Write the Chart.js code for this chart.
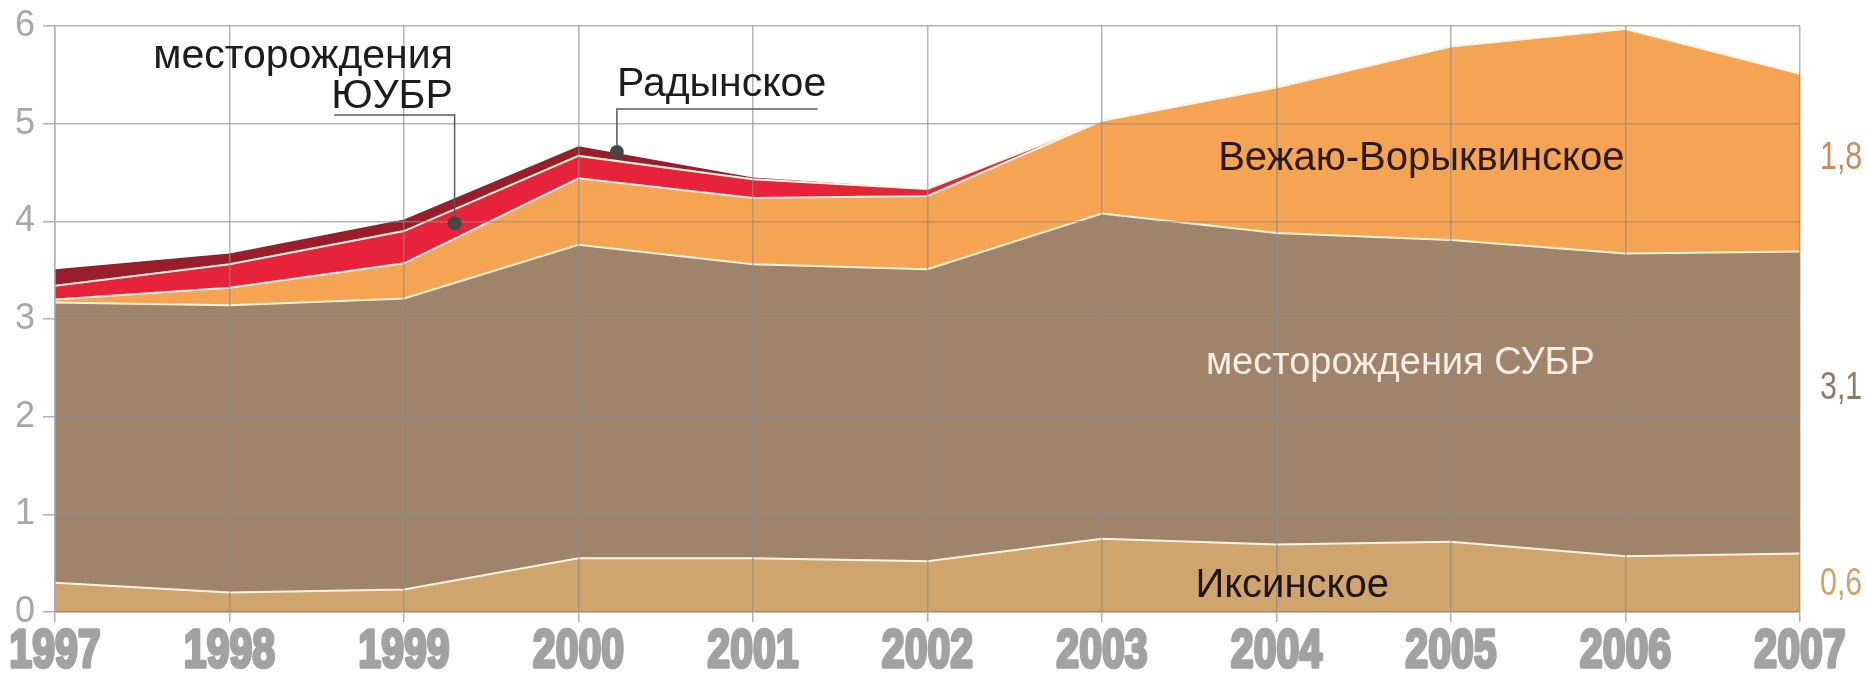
<!DOCTYPE html>
<html lang="ru">
<head>
<meta charset="utf-8">
<title>Добыча по месторождениям, 1997–2007</title>
<script src="https://cdn.jsdelivr.net/npm/chart.js@4/dist/chart.umd.min.js"></script>
<style>
    html, body { margin: 0; padding: 0; background: #fff; }
    #wrap { position: relative; width: 1866px; height: 683px; }
</style>
</head>
<body>
<div id="wrap"><canvas id="chartFields"></canvas></div>
<script>
// ── Data ──────────────────────────────────────────────────────────────────

const years = ['1997', '1998', '1999', '2000', '2001', '2002', '2003', '2004', '2005', '2006', '2007'];

// layers from bottom to top
const iksinskoe = [0.30, 0.20, 0.23, 0.55, 0.55, 0.52, 0.75, 0.69, 0.72, 0.57, 0.60];
const subr      = [2.87, 2.94, 2.98, 3.21, 3.01, 2.99, 3.33, 3.19, 3.09, 3.10, 3.09];
const vezhayu   = [0.03, 0.18, 0.36, 0.68, 0.68, 0.75, 0.95, 1.49, 1.98, 2.30, 1.82];
const yubr      = [0.14, 0.24, 0.33, 0.23, 0.19, 0.07, 0, 0, 0, 0, 0];
const radynskoe = [0.17, 0.11, 0.12, 0.10, 0.02, 0, 0, 0, 0, 0, 0];

const yTicks = [0, 1, 2, 3, 4, 5, 6];

// ── Styling ───────────────────────────────────────────────────────────────

const SANS = '"Liberation Sans", Arial, sans-serif';
const GRID = 'rgba(140,140,140,0.65)';
const SEAM = '#fff3dc';

function layer(label, data, color, fill, seam) {
    return {
        label: label,
        data: data,
        backgroundColor: color,
        borderColor: seam ? SEAM : color,
        borderWidth: seam ? 2 : 0,
        fill: fill,
        pointRadius: 0,
        tension: 0,
    };
}

// Подписи внутри слоёв и выноски (в координатах данных: индекс года / значение)
const bandLabels = [
    { text: 'Вежаю-Ворыквинское', x: 7.83, y: 4.64, size: 40, color: '#2a1a12' },
    { text: 'месторождения СУБР', x: 7.71, y: 2.54, size: 38, color: '#f6efe6' },
    { text: 'Иксинское',          x: 7.09, y: 0.27, size: 40, color: '#1e140e' },
];

const callouts = [
    { lines: ['месторождения', 'ЮУБР'], align: 'right', tx: 2.28, ty: [5.57, 5.16],
      path: [[1.60, 5.09], [2.29, 5.09], [2.29, 3.98]] },
    { lines: ['Радынское'], align: 'left', tx: 3.22, ty: [5.28],
      path: [[4.37, 5.15], [3.22, 5.15], [3.22, 4.71]] },
];

// Подписи справа: значения последнего года для трёх основных слоёв
const endLabels = [
    { series: iksinskoe, y: 0.28, color: '#cda56e' },
    { series: subr,      y: 2.29, color: '#8c7a6a' },
    { series: vezhayu,   y: 4.64, color: '#c98a5e' },
];

const annotations = {
    id: 'annotations',
    afterDraw(chart) {
        const ctx = chart.ctx;
        const xs = chart.scales.x;
        const ys = chart.scales.y;
        const px = (v) => xs.getPixelForValue(v);
        const py = (v) => ys.getPixelForValue(v);

        ctx.save();
        ctx.textBaseline = 'middle';
        ctx.textAlign = 'center';
        bandLabels.forEach(function (l) {
            ctx.font = l.size + 'px ' + SANS;
            ctx.fillStyle = l.color;
            ctx.fillText(l.text, px(l.x), py(l.y));
        });

        // выноски
        ctx.font = '41px ' + SANS;
        callouts.forEach(function (c) {
            ctx.strokeStyle = '#5a5a5a';
            ctx.lineWidth = 1.5;
            ctx.beginPath();
            c.path.forEach(function (p, i) {
                if (i === 0) ctx.moveTo(px(p[0]), py(p[1]));
                else ctx.lineTo(px(p[0]), py(p[1]));
            });
            ctx.stroke();
            const end = c.path[c.path.length - 1];
            ctx.fillStyle = '#474747';
            ctx.beginPath();
            ctx.arc(px(end[0]), py(end[1]), 7, 0, Math.PI * 2);
            ctx.fill();

            ctx.fillStyle = '#1c1c1c';
            ctx.textAlign = c.align;
            ctx.textBaseline = 'alphabetic';
            c.lines.forEach(function (t, i) {
                ctx.fillText(t, px(c.tx), py(c.ty[i]));
            });
        });

        // значения 2007 года справа от графика (узкие цифры)
        const last = years.length - 1;
        ctx.font = '38px ' + SANS;
        ctx.textAlign = 'left';
        ctx.textBaseline = 'middle';
        endLabels.forEach(function (e) {
            ctx.save();
            ctx.translate(chart.chartArea.right + 20, py(e.y));
            ctx.scale(0.8, 1);
            ctx.fillStyle = e.color;
            ctx.fillText(e.series[last].toFixed(1).replace('.', ','), 0, 0);
            ctx.restore();
        });

        // годы под осью: жирный узкий шрифт
        ctx.font = 'bold 54px ' + SANS;
        ctx.textAlign = 'center';
        ctx.fillStyle = '#a2a2a2';
        ctx.strokeStyle = '#a2a2a2';
        ctx.lineWidth = 3.5;
        ctx.lineJoin = 'round';
        years.forEach(function (y, i) {
            ctx.save();
            ctx.translate(px(i), chart.chartArea.bottom + 40);
            ctx.scale(0.76, 1);
            ctx.fillText(y, 0, 0);
            ctx.strokeText(y, 0, 0);
            ctx.restore();
        });
        ctx.restore();
    },
};

// ── Chart ─────────────────────────────────────────────────────────────────

new Chart(document.getElementById('chartFields'), {
    type: 'line',
    data: {
        labels: years,
        datasets: [
            layer('Иксинское', iksinskoe, '#cfa56d', 'origin', true),
            layer('месторождения СУБР', subr, '#9f846b', '-1', true),
            layer('Вежаю-Ворыквинское', vezhayu, '#f5a454', '-1', true),
            layer('месторождения ЮУБР', yubr, '#e6233a', '-1', true),
            layer('Радынское', radynskoe, '#9a1d2c', '-1', false),
        ],
    },
    plugins: [annotations],
    options: {
        responsive: true,
        maintainAspectRatio: false,
        animation: false,
        layout: { padding: { top: 24, right: 66, left: 0, bottom: 0 } },
        plugins: {
            legend: { display: false },
            tooltip: { enabled: false },
        },
        scales: {
            x: {
                grid: { color: GRID, lineWidth: 1.5, z: 1, tickLength: 10, tickColor: '#b0b0b0' },
                border: { color: GRID, width: 1.5, z: 1 },
                ticks: { display: false },
                afterFit: (s) => { s.height = 71; },
            },
            y: {
                stacked: true,
                min: 0,
                max: 6,
                afterBuildTicks: (s) => { s.ticks = yTicks.map((v) => ({ value: v })); },
                grid: { color: GRID, lineWidth: 1.5, z: 1, tickLength: 12, tickColor: '#b0b0b0' },
                border: { color: '#b0b0b0', width: 1.5, z: 1 },
                ticks: {
                    color: '#a8a8a8',
                    padding: 8,
                    font: { family: SANS, size: 36, lineHeight: 1 },
                },
                afterFit: (s) => { s.width = 55; },
            },
        },
    },
});
</script>
</body>
</html>
